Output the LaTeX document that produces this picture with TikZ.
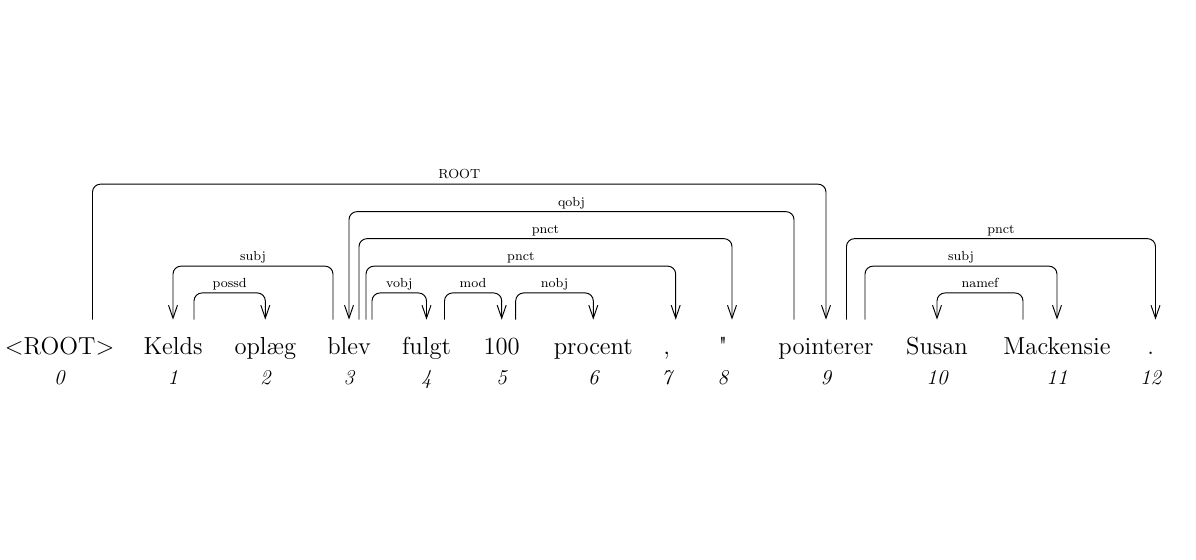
\documentclass[tikz,border=0pt]{standalone}
\usepackage{tikz}
\usetikzlibrary{calc,arrows.meta}

\begin{document}
\begin{tikzpicture}[x=2mm,y=2mm,
	word/.style={anchor=base,inner xsep=0pt,inner ysep=0pt,text height=6.9mm,text depth=1mm,font=\fontsize{14}{16}\selectfont},
	num/.style={anchor=base,inner sep=0pt,font=\fontsize{12}{14}\selectfont\itshape},
	dep/.style={line width=0.55pt,rounded corners=1.6mm,-{Straight Barb[length=2.6mm,width=1.8mm,line width=0.55pt]}},
	lbl/.style={pos=0.25,anchor=base,yshift=1.1mm,inner sep=0pt,font=\fontsize{7.5}{9}\selectfont}]
\useasboundingbox (0,0) rectangle (119.6,56);

% words
\node[word] (w0) at (5.95,20.55) {\textless ROOT\textgreater};
\node[word] (w1) at (17.3,20.55) {Kelds};
\node[word] (w2) at (26.53,20.55) {oplæg};
\node[word] (w3) at (34.9,20.55) {blev};
\node[word] (w4) at (42.65,20.55) {fulgt};
\node[word] (w5) at (50.17,20.55) {100};
\node[word] (w6) at (59.33,20.55) {procent};
\node[word] (w7) at (66.67,20.55) {,};
\node[word] (w8) at (72.3,20.55) {\textquotedbl};
\node[word] (w9) at (82.6,20.55) {pointerer};
\node[word] (w10) at (93.7,20.55) {Susan};
\node[word] (w11) at (105.7,20.55) {Mackensie};
\node[word] (w12) at (115.07,20.55) {.};

% indices
\node[num] (n0) at (5.95,17.5) {0};
\node[num] (n1) at (17.3,17.5) {1};
\node[num] (n2) at (26.53,17.5) {2};
\node[num] (n3) at (34.9,17.5) {3};
\node[num] (n4) at (42.65,17.5) {4};
\node[num] (n5) at (50.17,17.5) {5};
\node[num] (n6) at (59.33,17.5) {6};
\node[num] (n7) at (66.67,17.5) {7};
\node[num] (n8) at (72.3,17.5) {8};
\node[num] (n9) at (82.6,17.5) {9};
\node[num] (n10) at (93.7,17.5) {10};
\node[num] (n11) at (105.7,17.5) {11};
\node[num] (n12) at (115.07,17.5) {12};

% arcs
\draw[dep] ($(w0.north)+(3.3,0)$) -- ++(0,13.55) -| node[lbl]{ROOT} (w9.north);
\draw[dep] ($(w9.north)+(-3.2,0)$) -- ++(0,10.8) -| node[lbl]{qobj} (w3.north);
\draw[dep] ($(w3.north)+(1.0,0)$) -- ++(0,8.1) -| node[lbl]{pnct} ($(w8.north)+(0.9,0)$);
\draw[dep] ($(w3.north)+(1.7,0)$) -- ++(0,5.35) -| node[lbl]{pnct} ($(w7.north)+(0.9,0)$);
\draw[dep] ($(w3.north)+(2.3,0)$) -- ++(0,2.67) -| node[lbl]{vobj} (w4.north);
\draw[dep] ($(w4.north)+(1.8,0)$) -- ++(0,2.67) -| node[lbl]{mod} (w5.north);
\draw[dep] ($(w5.north)+(1.4,0)$) -- ++(0,2.67) -| node[lbl]{nobj} (w6.north);
\draw[dep] ($(w3.north)+(-1.6,0)$) -- ++(0,5.35) -| node[lbl]{subj} (w1.north);
\draw[dep] ($(w1.north)+(2.1,0)$) -- ++(0,2.67) -| node[lbl]{possd} (w2.north);
\draw[dep] ($(w9.north)+(2.05,0)$) -- ++(0,8.1) -| node[lbl]{pnct} ($(w12.north)+(0.48,0)$);
\draw[dep] ($(w9.north)+(3.9,0)$) -- ++(0,5.35) -| node[lbl]{subj} (w11.north);
\draw[dep] ($(w11.north)+(-3.4,0)$) -- ++(0,2.67) -| node[lbl]{namef} (w10.north);

\end{tikzpicture}
\end{document}
